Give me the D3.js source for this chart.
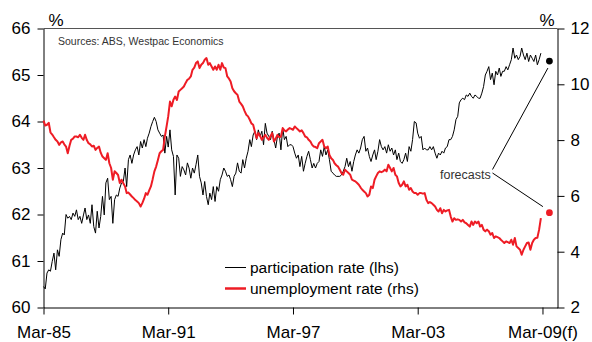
<!DOCTYPE html>
<html><head><meta charset="utf-8">
<script src="https://cdn.jsdelivr.net/npm/d3@7"></script>
<style>html,body{margin:0;padding:0;background:#fff;} svg{display:block;font-family:"Liberation Sans",Arial,sans-serif;}</style>
</head><body><svg id="c" width="592" height="342"></svg>
<script>
// Monthly data, starting March 1985
const startYear = 1985, startMonthIndex = 2;
const participation = [
60.45,60.40,60.74,60.81,60.78,60.99,61.17,60.81,61.24,61.10,61.46,61.60,
61.56,62.00,61.92,61.96,61.89,62.03,61.96,62.10,61.89,61.96,61.81,61.99,
62.14,61.89,61.99,61.81,62.21,61.74,61.60,62.07,61.71,61.96,62.39,61.99,
62.68,62.78,62.32,62.39,61.81,62.32,62.42,62.39,62.57,62.68,62.71,63.00,
62.60,63.18,63.28,63.10,63.28,63.39,63.46,63.28,63.57,63.43,63.61,63.46,
63.64,63.75,63.89,64.00,64.09,64.00,63.82,63.75,63.68,63.71,63.32,63.68,
63.45,63.82,63.39,63.25,62.42,63.28,63.21,62.82,63.03,62.96,62.85,63.11,
63.00,62.78,63.00,62.89,63.07,63.28,62.82,62.68,62.42,62.71,62.39,62.21,
62.46,62.32,62.60,62.28,62.60,62.50,62.75,62.85,63.00,62.93,62.82,62.85,
62.75,62.60,62.82,62.89,63.11,62.93,62.89,63.18,63.00,63.21,63.36,63.61,
63.46,63.71,63.79,63.61,63.82,63.68,63.79,63.50,63.96,63.75,63.68,63.61,
63.79,63.61,63.43,63.68,63.75,63.39,63.86,63.61,63.68,63.46,63.50,63.50,
63.46,63.32,63.21,63.28,63.03,63.25,62.93,63.10,63.25,63.36,63.18,63.00,
63.10,63.00,63.10,63.14,63.39,63.25,63.46,63.28,63.39,63.18,62.93,62.89,
62.85,62.82,62.82,62.82,62.85,62.93,63.03,63.21,63.03,63.14,62.93,63.14,
63.28,63.39,63.32,63.43,63.61,63.68,63.36,63.43,63.25,63.14,63.28,63.39,
63.18,63.36,63.61,63.46,63.39,63.46,63.32,63.50,63.36,63.43,63.28,63.39,
63.18,63.32,63.14,63.10,63.18,63.32,63.14,63.46,63.36,63.61,64.00,63.97,
63.75,63.64,63.68,63.39,63.43,63.39,63.39,63.46,63.39,63.46,63.32,63.21,
63.32,63.28,63.36,63.32,63.43,63.46,63.61,63.61,63.68,63.82,64.04,64.11,
64.40,64.47,64.50,64.47,64.57,64.54,64.61,64.54,64.50,64.57,64.54,64.50,
64.50,64.61,64.75,65.00,65.08,65.18,64.90,65.04,64.79,65.08,65.00,65.15,
64.97,65.08,65.08,65.18,65.11,65.22,65.33,65.58,65.36,65.43,65.33,65.40,
65.58,65.43,65.33,65.47,65.29,65.43,65.36,65.29,65.43,65.22,65.33,65.47
];
const unemployment = [
8.70,8.52,8.55,8.62,8.28,8.20,8.10,8.01,7.95,7.83,7.92,7.95,
7.85,7.77,7.53,7.80,8.01,8.05,8.13,8.13,8.10,8.19,8.08,8.01,
8.19,8.00,7.89,7.85,7.77,7.80,7.65,7.72,7.77,7.55,7.41,7.35,
7.29,7.53,7.17,7.00,6.58,6.88,6.82,6.75,6.46,6.58,6.45,6.34,
6.10,6.12,6.05,5.98,5.92,5.85,5.80,5.74,5.62,5.74,5.90,6.10,
6.04,6.20,6.34,6.60,6.88,7.05,7.29,7.53,7.60,7.65,8.13,8.50,
8.85,9.38,9.21,9.45,9.56,9.44,9.74,9.80,9.86,9.92,10.05,10.16,
10.20,10.28,10.52,10.60,10.76,10.82,10.58,10.70,10.76,10.88,10.94,10.70,
10.76,10.64,10.52,10.64,10.52,10.70,10.52,10.76,10.60,10.58,10.28,10.20,
10.10,9.86,9.75,9.68,9.62,9.38,9.30,9.21,9.05,8.91,8.85,8.73,
8.60,8.55,8.31,8.07,8.25,8.15,8.01,8.10,8.19,8.08,8.01,8.15,
8.25,7.95,8.05,8.19,8.10,8.13,8.43,8.35,8.31,8.38,8.43,8.40,
8.37,8.49,8.43,8.37,8.31,8.35,8.25,8.13,8.10,8.01,7.95,7.83,
7.77,7.75,7.71,7.89,7.95,8.01,7.77,7.71,7.77,7.47,7.35,7.29,
7.17,7.10,7.05,6.94,6.82,6.76,6.94,6.88,6.82,6.76,6.58,6.55,
6.52,6.46,6.40,6.30,6.22,6.16,6.10,5.98,6.04,6.34,6.28,6.58,
6.70,6.82,6.88,6.85,6.88,6.94,6.88,7.12,7.00,6.88,7.00,6.76,
6.70,6.46,6.34,6.40,6.52,6.34,6.40,6.22,6.28,6.16,6.10,6.10,
6.04,6.10,6.10,6.08,6.10,5.86,5.74,5.78,5.74,5.68,5.62,5.50,
5.44,5.56,5.38,5.50,5.44,5.48,5.50,5.26,5.08,5.20,5.14,5.16,
5.14,5.08,5.14,5.05,5.02,4.96,4.90,5.08,4.96,5.08,5.02,5.08,
4.90,4.96,4.79,4.73,4.79,4.73,4.61,4.67,4.49,4.55,4.52,4.49,
4.43,4.37,4.31,4.37,4.34,4.31,4.43,4.25,4.49,4.19,4.13,4.07,
3.89,4.07,4.19,4.31,4.33,4.07,4.31,4.43,4.49,4.50,4.79,5.20
];
const xTickDates = ["1985-03","1991-03","1997-03","2003-03","2009-03"];
const xTickLabels = ["Mar-85","Mar-91","Mar-97","Mar-03","Mar-09(f)"];
const leftTicks = [60,61,62,63,64,65,66];
const rightTicks = [2,4,6,8,10,12];
const forecastDate = "2009-07";
const forecastParticipation = 65.3;
const forecastUnemployment = 5.4;
const seriesNames = ["participation rate (lhs)","unemployment rate (rhs)"];
const sourceText = "Sources: ABS, Westpac Economics";
const forecastLabel = "forecasts";

const RED = "#ee1c25";
const parse = d3.timeParse("%Y-%m");
const svg = d3.select("#c");
const L = 43.5, R = 557.5, T = 28.5, B = 307.5;

const x = d3.scaleTime().domain([new Date(1985,2,1), new Date(2009,10,20)]).range([L, R]);
const yL = d3.scaleLinear().domain([60,66]).range([B, T]);
const yR = d3.scaleLinear().domain([2,12]).range([B, T]);

const dateAt = i => new Date(startYear, startMonthIndex + i, 1);
const pData = participation.map((v,i)=>({d:dateAt(i), v}));
const uData = unemployment.map((v,i)=>({d:dateAt(i), v}));

// top border
svg.append("line").attr("x1",L).attr("x2",R).attr("y1",T).attr("y2",T).attr("stroke","#555").attr("stroke-width",1);

// axes
const styleAxis = g => { g.selectAll("path.domain").attr("stroke","#000"); g.selectAll(".tick line").attr("stroke","#000"); g.selectAll("text").attr("fill","#000").style("font-size","17px").style("font-family","'Liberation Sans',Arial,sans-serif"); };

const gl = svg.append("g").attr("transform",`translate(${L},0)`)
  .call(d3.axisLeft(yL).tickValues(leftTicks).tickSize(6).tickSizeOuter(0).tickPadding(7).tickFormat(d3.format("d")));
styleAxis(gl);
const gr = svg.append("g").attr("transform",`translate(${R},0)`)
  .call(d3.axisRight(yR).tickValues(rightTicks).tickSize(7).tickSizeOuter(0).tickPadding(6).tickFormat(d3.format("d")));
styleAxis(gr);
const gb = svg.append("g").attr("transform",`translate(0,${B})`)
  .call(d3.axisBottom(x).tickValues(xTickDates.map(parse)).tickSize(7).tickSizeOuter(0).tickFormat((d,i)=>xTickLabels[i]));
styleAxis(gb);
gb.selectAll("text").attr("y",30.5).attr("dy",0);

// % labels
svg.append("text").attr("x",56).attr("y",26).attr("text-anchor","middle").style("font-size","17px").text("%");
svg.append("text").attr("x",547).attr("y",26).attr("text-anchor","middle").style("font-size","17px").text("%");

// source
svg.append("text").attr("x",58).attr("y",44.5).style("font-size","10.5px").attr("fill","#333").text(sourceText);

// lines
const lineL = d3.line().x(d=>x(d.d)).y(d=>yL(d.v));
const lineR = d3.line().x(d=>x(d.d)).y(d=>yR(d.v));
svg.append("path").datum(pData).attr("d",lineL).attr("fill","none").attr("stroke","#000").attr("stroke-width",1).attr("stroke-linejoin","round");
svg.append("path").datum(uData).attr("d",lineR).attr("fill","none").attr("stroke",RED).attr("stroke-width",2).attr("stroke-linejoin","round");

// forecasts
const fx = x(parse(forecastDate));
const fyP = yL(forecastParticipation), fyU = yR(forecastUnemployment);
svg.append("circle").attr("cx",fx).attr("cy",fyP).attr("r",3.4).attr("fill","#000");
svg.append("circle").attr("cx",fx).attr("cy",fyU).attr("r",3.4).attr("fill",RED);
svg.append("text").attr("x",440).attr("y",179).style("font-size","12.5px").attr("fill","#333").text(forecastLabel);
svg.append("line").attr("x1",492.5).attr("y1",169.5).attr("x2",fx-1.5).attr("y2",fyP+7).attr("stroke","#000").attr("stroke-width",1);
svg.append("line").attr("x1",492.5).attr("y1",173).attr("x2",fx-6.5).attr("y2",fyU-6).attr("stroke","#000").attr("stroke-width",1);

// legend
svg.append("line").attr("x1",225).attr("x2",246).attr("y1",267.5).attr("y2",267.5).attr("stroke","#000").attr("stroke-width",1);
svg.append("line").attr("x1",225).attr("x2",246).attr("y1",288.5).attr("y2",288.5).attr("stroke",RED).attr("stroke-width",2.5);
svg.append("text").attr("x",250).attr("y",273).style("font-size","15.5px").text(seriesNames[0]);
svg.append("text").attr("x",250).attr("y",293.5).style("font-size","15.5px").text(seriesNames[1]);
</script></body></html>
